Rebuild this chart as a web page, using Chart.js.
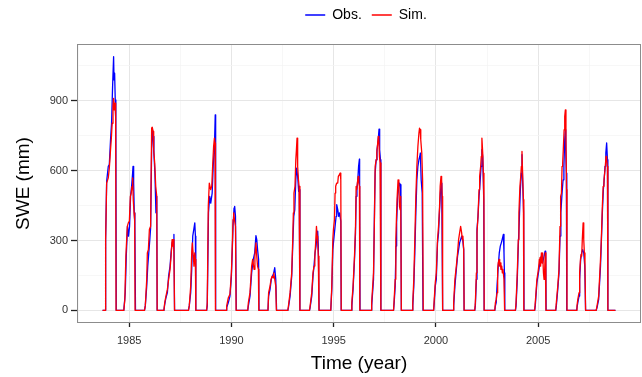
<!DOCTYPE html>
<html><head><meta charset="utf-8">
<script src="https://cdn.jsdelivr.net/npm/chart.js@4/dist/chart.umd.min.js"></script>
<style>html,body{margin:0;padding:0;background:#fff;}#wrap{width:642px;height:377px;}</style>
</head><body><div id="wrap"><canvas id="c" width="642" height="377"></canvas></div>
<script>
// Observed SWE (mm), decimal years, read season by season from the figure
const obsYear = [
1983.70,1983.84,1983.85,1983.90,1983.98,1984.03,1984.09,1984.14,1984.19,1984.24,1984.26,1984.29,1984.32,1984.35,1984.37,
1984.74,1984.81,1984.86,1984.92,1984.97,1985.02,1985.07,1985.12,1985.17,1985.19,1985.22,1985.25,1985.28,1985.31,
1985.75,1985.79,1985.86,1985.91,1985.96,1986.01,1986.05,1986.10,1986.13,1986.17,1986.21,1986.26,1986.31,1986.35,1986.37,
1986.70,1986.74,1986.80,1986.87,1986.93,1987.00,1987.05,1987.10,1987.15,1987.19,1987.22,
1987.90,1987.94,1988.01,1988.06,1988.11,1988.16,1988.21,1988.24,1988.26,
1988.79,1988.82,1988.88,1988.94,1988.99,1989.06,1989.11,1989.15,1989.18,1989.21,1989.23,
1989.74,1989.77,1989.85,1989.93,1990.00,1990.05,1990.08,1990.13,1990.16,1990.20,1990.24,
1990.80,1990.83,1990.91,1990.99,1991.07,1991.14,1991.20,1991.24,1991.28,1991.33,1991.35,
1991.79,1991.82,1991.89,1991.95,1992.01,1992.07,1992.12,1992.17,1992.21,
1992.76,1992.79,1992.87,1992.95,1993.00,1993.05,1993.10,1993.15,1993.19,1993.24,1993.29,1993.32,1993.35,
1993.82,1993.85,1993.93,1993.99,1994.04,1994.09,1994.14,1994.19,1994.22,1994.25,1994.29,
1994.86,1994.91,1994.96,1994.99,1995.07,1995.12,1995.15,1995.20,1995.25,1995.29,1995.35,1995.37,
1995.86,1995.89,1995.95,1996.02,1996.07,1996.10,1996.14,1996.18,1996.22,1996.26,1996.27,1996.29,
1996.83,1996.86,1996.95,1997.00,1997.03,1997.08,1997.12,1997.18,1997.22,1997.25,1997.29,1997.31,
1997.93,1997.96,1998.01,1998.05,1998.08,1998.13,1998.19,1998.22,1998.26,1998.29,1998.31,
1998.84,1998.87,1998.92,1998.97,1999.02,1999.07,1999.12,1999.17,1999.21,1999.24,1999.28,1999.33,1999.37,
1999.89,1999.92,1999.97,2000.02,2000.08,2000.13,2000.18,2000.22,2000.26,2000.29,2000.33,
2000.84,2000.87,2000.93,2001.00,2001.06,2001.11,2001.16,2001.21,2001.26,2001.31,2001.36,2001.38,
2001.90,2001.93,2001.98,2002.01,2002.06,2002.11,2002.16,2002.21,2002.25,2002.29,2002.34,2002.36,
2002.88,2002.91,2002.95,2002.99,2003.05,2003.10,2003.15,2003.20,2003.24,2003.30,2003.33,2003.35,2003.37,
2003.89,2003.92,2003.98,2004.03,2004.08,2004.13,2004.18,2004.21,2004.24,2004.29,2004.31,
2004.83,2004.86,2004.94,2004.99,2005.04,2005.10,2005.16,2005.22,2005.29,2005.34,2005.37,2005.39,
2005.86,2005.89,2005.96,2006.02,2006.07,2006.11,2006.17,2006.22,2006.26,2006.30,2006.33,2006.35,2006.38,2006.40,
2006.88,2006.94,2007.00,2007.03,2007.08,2007.13,2007.18,2007.23,2007.28,2007.32,
2007.84,2007.88,2007.96,2008.05,2008.09,2008.14,2008.19,2008.23,2008.27,2008.31,2008.35,2008.39,2008.41,2008.78
];
const obsSWE = [
0,0,304,554,619,626,733,804,961,1090,990,1019,904,790,0,
0,76,233,361,319,361,490,533,590,619,547,419,361,0,
0,19,104,190,247,304,354,690,783,747,676,590,419,490,0,
0,26,54,76,147,190,247,290,304,326,0,
0,19,76,176,319,347,376,319,0,
0,19,419,490,461,504,619,676,733,840,0,
0,12,33,61,147,276,361,440,447,404,0,
0,19,61,161,219,247,321,304,261,219,0,
0,61,90,133,147,161,183,133,0,
0,12,61,147,276,404,433,561,611,576,511,519,0,
0,12,61,147,190,247,276,326,340,276,0,
0,90,261,290,361,404,454,433,404,419,383,0,
0,19,90,219,333,490,519,561,619,650,561,0,
0,19,133,447,590,647,690,733,779,690,647,0,
0,33,104,276,376,490,533,547,540,419,0,
0,19,104,247,419,561,619,647,661,676,561,504,0,
0,33,104,133,290,333,433,504,547,490,0,
0,19,104,176,233,261,290,304,319,304,261,0,
0,19,133,347,404,490,547,619,690,661,476,0,
0,19,33,104,190,247,276,290,304,326,247,161,0,
0,19,133,276,390,519,590,669,561,419,0,
0,19,119,147,176,219,233,204,233,254,233,0,
0,19,90,161,319,419,504,561,619,733,776,690,590,0,
0,33,61,133,219,247,261,247,190,0,
0,12,47,190,290,419,519,561,619,676,719,647,0,0
];
// Simulated SWE (mm)
const simYear = [
1983.70,1983.84,1983.85,1983.90,1983.98,1984.03,1984.09,1984.13,1984.17,1984.21,1984.24,1984.27,1984.31,1984.34,1984.36,
1984.74,1984.79,1984.84,1984.91,1984.96,1985.01,1985.06,1985.10,1985.14,1985.17,1985.20,1985.24,1985.27,1985.29,
1985.75,1985.79,1985.86,1985.89,1985.94,1985.99,1986.05,1986.10,1986.13,1986.17,1986.20,1986.25,1986.30,1986.35,1986.37,
1986.70,1986.74,1986.80,1986.87,1986.93,1987.00,1987.05,1987.10,1987.13,1987.16,1987.19,1987.22,
1987.90,1987.94,1988.01,1988.06,1988.09,1988.14,1988.17,1988.21,1988.24,1988.26,
1988.79,1988.82,1988.87,1988.92,1988.99,1989.04,1989.09,1989.13,1989.17,1989.20,1989.22,
1989.74,1989.77,1989.85,1989.93,1990.00,1990.05,1990.08,1990.11,1990.15,1990.20,1990.23,
1990.80,1990.83,1990.91,1990.99,1991.04,1991.11,1991.15,1991.20,1991.24,1991.28,1991.32,1991.34,
1991.79,1991.82,1991.89,1991.94,1991.99,1992.04,1992.07,1992.12,1992.17,1992.20,
1992.76,1992.79,1992.87,1992.95,1993.00,1993.03,1993.06,1993.11,1993.15,1993.18,1993.21,1993.24,1993.28,1993.31,1993.35,
1993.82,1993.85,1993.93,1993.99,1994.04,1994.08,1994.12,1994.16,1994.19,1994.22,1994.25,1994.28,
1994.86,1994.91,1994.96,1994.99,1995.04,1995.07,1995.10,1995.15,1995.20,1995.23,1995.28,1995.32,1995.35,1995.37,
1995.86,1995.89,1995.95,1996.02,1996.07,1996.10,1996.13,1996.16,1996.20,1996.23,1996.26,1996.28,
1996.83,1996.86,1996.95,1997.00,1997.03,1997.08,1997.11,1997.14,1997.18,1997.21,1997.24,1997.27,1997.31,
1997.93,1997.96,1998.01,1998.04,1998.07,1998.10,1998.15,1998.19,1998.22,1998.25,1998.28,1998.31,
1998.84,1998.87,1998.92,1998.97,1999.02,1999.07,1999.12,1999.17,1999.20,1999.23,1999.26,1999.31,1999.35,1999.38,
1999.89,1999.92,1999.97,2000.02,2000.08,2000.13,2000.18,2000.21,2000.25,2000.28,2000.31,2000.33,
2000.84,2000.87,2000.93,2001.00,2001.06,2001.11,2001.16,2001.21,2001.26,2001.29,2001.32,2001.36,2001.38,
2001.90,2001.93,2001.98,2002.01,2002.06,2002.11,2002.14,2002.19,2002.22,2002.25,2002.29,2002.32,2002.35,2002.36,
2002.88,2002.91,2002.95,2002.99,2003.02,2003.05,2003.09,2003.12,2003.15,2003.18,2003.22,2003.25,2003.28,2003.33,2003.36,
2003.89,2003.92,2003.98,2004.03,2004.06,2004.11,2004.15,2004.18,2004.21,2004.24,2004.28,2004.30,
2004.83,2004.86,2004.94,2004.99,2005.03,2005.06,2005.09,2005.12,2005.16,2005.19,2005.22,2005.26,2005.29,2005.32,2005.35,2005.38,
2005.86,2005.89,2005.96,2006.02,2006.07,2006.10,2006.14,2006.17,2006.20,2006.23,2006.27,2006.30,2006.33,2006.36,2006.39,2006.41,
2006.88,2006.90,2006.94,2007.00,2007.03,2007.07,2007.10,2007.13,2007.16,2007.20,2007.23,2007.26,2007.29,2007.32,
2007.84,2007.88,2007.96,2008.05,2008.09,2008.14,2008.18,2008.22,2008.27,2008.32,2008.35,2008.39,2008.41,2008.78
];
const simSWE = [
0,0,304,547,569,611,690,740,804,876,911,861,890,833,0,
0,47,233,361,376,383,490,504,533,569,476,419,390,0,
0,19,133,247,261,347,361,783,787,769,690,633,533,490,0,
0,33,61,90,133,176,233,304,276,304,247,0,
0,19,104,247,290,233,190,247,219,0,
0,33,447,547,519,533,633,704,740,719,0,
0,19,54,69,161,290,390,419,390,361,0,
0,33,76,190,219,176,233,290,233,190,176,0,
0,76,104,133,147,140,161,133,104,0,
0,19,76,161,304,419,504,533,647,690,740,619,561,533,0,
0,19,76,161,190,233,290,361,319,290,233,0,
0,104,304,347,390,504,533,547,547,576,583,590,561,0,
0,33,104,233,361,533,519,547,576,547,533,0,
0,33,161,419,619,647,676,704,747,733,661,633,0,
0,47,133,304,390,476,561,533,447,433,490,0,
0,33,133,304,490,619,704,761,783,776,733,676,561,0,
0,47,119,161,304,361,447,533,576,561,490,0,
0,33,133,190,247,304,333,361,333,304,319,261,0,
0,33,161,333,404,519,576,619,661,740,676,590,447,0,
0,33,47,76,176,204,219,190,204,176,190,161,176,133,0,
0,33,161,304,419,533,576,619,683,590,476,0,
0,33,133,161,190,219,226,190,247,204,247,161,133,176,247,0,
0,33,104,176,361,490,504,619,633,690,776,833,861,747,519,0,
0,19,47,76,161,219,240,233,304,376,304,247,190,0,
0,19,61,219,304,447,533,561,604,661,647,619,0,0
];
const xTickValues = [1982.5,1985,1987.5,1990,1992.5,1995,1997.5,2000,2002.5,2005,2007.5];
const xTickLabels = ['','1985','','1990','','1995','','2000','','2005',''];
const yTickValues = [0,150,300,450,600,750,900,1050];
const yTickLabels = ['0','','300','','600','','900',''];
const seriesNames = ['Obs.','Sim.'];
const seriesColors = ['#0000ff','#ff0000'];

const FAM = '"Liberation Sans", Arial, Helvetica, sans-serif';
const toPts = (xs, ys) => xs.map((x, i) => ({x: x, y: ys[i]}));

const legendShift = {
  id: 'legendShift',
  afterLayout(chart) {
    const l = chart.legend;
    if (!l) return;
    const dx = 366 - (l.left + l.right) / 2;
    l.left += dx; l.right += dx;
    l.top -= 12; l.bottom -= 12;
  }
};
const panelBorder = {
  id: 'panelBorder',
  afterDatasetsDraw(chart) {
    const {ctx, chartArea: a} = chart;
    ctx.save();
    ctx.strokeStyle = '#8c8c8c';
    ctx.lineWidth = 1;
    ctx.strokeRect(a.left + 0.5, a.top + 0.5, a.right - a.left - 1, a.bottom - a.top - 1);
    ctx.restore();
  }
};

new Chart(document.getElementById('c'), {
  type: 'line',
  data: {
    datasets: [
      {label: seriesNames[0], data: toPts(obsYear, obsSWE), borderColor: seriesColors[0], backgroundColor: seriesColors[0], borderWidth: 1.3, pointRadius: 0, tension: 0, fill: false, order: 1, borderJoinStyle: 'round'},
      {label: seriesNames[1], data: toPts(simYear, simSWE), borderColor: seriesColors[1], backgroundColor: seriesColors[1], borderWidth: 1.3, pointRadius: 0, tension: 0, fill: false, order: 0, borderJoinStyle: 'round'}
    ]
  },
  options: {
    responsive: false, animation: false, devicePixelRatio: 1,
    parsing: true,
    layout: {padding: {top: 10, right: 1, bottom: 0, left: 0}},
    plugins: {
      legend: {
        position: 'top',
        labels: {
          usePointStyle: true, pointStyle: 'line', pointStyleWidth: 20, boxHeight: 14,
          padding: 10, color: '#000', font: {size: 14, family: FAM},
          sort: (a, b) => a.datasetIndex - b.datasetIndex
        }
      },
      tooltip: {enabled: false}
    },
    scales: {
      x: {
        type: 'linear', min: 1982.45, max: 2010.03,
        afterBuildTicks: s => { s.ticks = xTickValues.map(v => ({value: v})); },
        afterFit: s => { s.height = 54; },
        border: {display: false},
        grid: {
          color: c => xTickLabels[c.index] ? '#e6e6e6' : '#f3f3f3',
          lineWidth: c => xTickLabels[c.index] ? 1 : 0.7,
          tickColor: c => xTickLabels[c.index] ? '#222' : 'rgba(0,0,0,0)',
          tickLength: 4, tickWidth: 1.3
        },
        ticks: {autoSkip: false, maxRotation: 0, minRotation: 0, padding: 7, color: '#333',
          font: {size: 11, family: FAM}, callback: (v, i) => xTickLabels[i]},
        title: {display: true, text: 'Time (year)', color: '#000', font: {size: 19, family: FAM}, padding: {top: 0, bottom: 1.6}}
      },
      y: {
        type: 'linear', min: -54.5, max: 1144.5,
        afterBuildTicks: s => { s.ticks = yTickValues.map(v => ({value: v})); },
        afterFit: s => { s.width = 77; },
        border: {display: false},
        grid: {
          color: c => yTickLabels[c.index] ? '#e6e6e6' : '#f3f3f3',
          lineWidth: c => yTickLabels[c.index] ? 1 : 0.7,
          tickColor: c => yTickLabels[c.index] ? '#222' : 'rgba(0,0,0,0)',
          tickLength: 6, tickWidth: 1.3
        },
        ticks: {autoSkip: false, padding: 3, color: '#333',
          font: {size: 11, family: FAM}, callback: (v, i) => yTickLabels[i]},
        title: {display: true, text: 'SWE (mm)', color: '#000', font: {size: 19, family: FAM}, padding: {top: 12.6, bottom: 0}}
      }
    }
  },
  plugins: [legendShift, panelBorder]
});
</script>
</body></html>
